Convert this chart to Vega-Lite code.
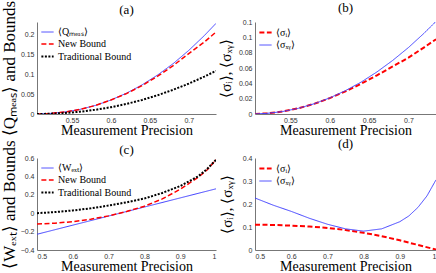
{
  "$schema": "https://vega.github.io/schema/vega-lite/v6.json",
  "background": "white",
  "padding": {"left": 0, "top": 0, "right": 2, "bottom": 0},
  "config": {
    "font": "Liberation Serif",
    "view": {"stroke": null},
    "axis": {
      "labelFont": "Liberation Sans", "labelFontSize": 7, "labelColor": "#333",
      "domainColor": "#777", "ticks": false, "grid": false,
      "titleFont": "Liberation Serif", "titleFontWeight": "normal", "titleColor": "#000"
    },
    "axisX": {"titleFontSize": 14, "titlePadding": 0, "labelPadding": 2},
    "axisY": {"titleFontSize": 17, "titlePadding": 2, "labelPadding": 3},
    "title": {"font": "Liberation Serif", "fontSize": 13, "fontWeight": "normal", "offset": 3, "color": "#000", "frame": "group"},
    "legend": {
      "orient": "top-left", "offset": 1, "title": null,
      "labelFont": "Liberation Serif", "labelFontSize": 10, "labelColor": "#000",
      "symbolType": "stroke", "symbolSize": 150, "rowPadding": 0, "padding": 2,
      "fillColor": "white", "labelOffset": 3
    }
  },
  "datasets": {
    "a": [
      {"x": 0.505, "y": 0.0, "s": "⟨Qₘₑₐₛ⟩"}, {"x": 0.52, "y": 0.001, "s": "⟨Qₘₑₐₛ⟩"}, {"x": 0.54, "y": 0.0047, "s": "⟨Qₘₑₐₛ⟩"},
      {"x": 0.56, "y": 0.0114, "s": "⟨Qₘₑₐₛ⟩"}, {"x": 0.58, "y": 0.0214, "s": "⟨Qₘₑₐₛ⟩"}, {"x": 0.6, "y": 0.035, "s": "⟨Qₘₑₐₛ⟩"},
      {"x": 0.62, "y": 0.052, "s": "⟨Qₘₑₐₛ⟩"}, {"x": 0.64, "y": 0.0728, "s": "⟨Qₘₑₐₛ⟩"}, {"x": 0.66, "y": 0.0975, "s": "⟨Qₘₑₐₛ⟩"},
      {"x": 0.68, "y": 0.126, "s": "⟨Qₘₑₐₛ⟩"}, {"x": 0.7, "y": 0.159, "s": "⟨Qₘₑₐₛ⟩"}, {"x": 0.72, "y": 0.196, "s": "⟨Qₘₑₐₛ⟩"},
      {"x": 0.735, "y": 0.2266, "s": "⟨Qₘₑₐₛ⟩"},
      {"x": 0.505, "y": 0.0, "s": "New Bound"}, {"x": 0.52, "y": 0.001, "s": "New Bound"}, {"x": 0.54, "y": 0.0047, "s": "New Bound"},
      {"x": 0.56, "y": 0.0114, "s": "New Bound"}, {"x": 0.58, "y": 0.0214, "s": "New Bound"}, {"x": 0.6, "y": 0.035, "s": "New Bound"},
      {"x": 0.62, "y": 0.051, "s": "New Bound"}, {"x": 0.64, "y": 0.071, "s": "New Bound"}, {"x": 0.66, "y": 0.0945, "s": "New Bound"},
      {"x": 0.68, "y": 0.121, "s": "New Bound"}, {"x": 0.7, "y": 0.151, "s": "New Bound"}, {"x": 0.72, "y": 0.18, "s": "New Bound"},
      {"x": 0.735, "y": 0.205, "s": "New Bound"},
      {"x": 0.505, "y": 0.0, "s": "Traditional Bound"}, {"x": 0.52, "y": 0.0005, "s": "Traditional Bound"}, {"x": 0.54, "y": 0.0023, "s": "Traditional Bound"},
      {"x": 0.56, "y": 0.0057, "s": "Traditional Bound"}, {"x": 0.58, "y": 0.0105, "s": "Traditional Bound"}, {"x": 0.6, "y": 0.017, "s": "Traditional Bound"},
      {"x": 0.62, "y": 0.0252, "s": "Traditional Bound"}, {"x": 0.64, "y": 0.0352, "s": "Traditional Bound"}, {"x": 0.66, "y": 0.047, "s": "Traditional Bound"},
      {"x": 0.68, "y": 0.0606, "s": "Traditional Bound"}, {"x": 0.7, "y": 0.076, "s": "Traditional Bound"}, {"x": 0.72, "y": 0.0935, "s": "Traditional Bound"},
      {"x": 0.735, "y": 0.1078, "s": "Traditional Bound"}
    ],
    "b": [
      {"x": 0.505, "y": 0.0, "s": "⟨σᵢ⟩"}, {"x": 0.52, "y": 0.0008, "s": "⟨σᵢ⟩"}, {"x": 0.54, "y": 0.0032, "s": "⟨σᵢ⟩"},
      {"x": 0.56, "y": 0.0074, "s": "⟨σᵢ⟩"}, {"x": 0.58, "y": 0.0132, "s": "⟨σᵢ⟩"}, {"x": 0.6, "y": 0.0207, "s": "⟨σᵢ⟩"},
      {"x": 0.62, "y": 0.0295, "s": "⟨σᵢ⟩"}, {"x": 0.64, "y": 0.0395, "s": "⟨σᵢ⟩"}, {"x": 0.66, "y": 0.0505, "s": "⟨σᵢ⟩"},
      {"x": 0.68, "y": 0.062, "s": "⟨σᵢ⟩"}, {"x": 0.7, "y": 0.0735, "s": "⟨σᵢ⟩"}, {"x": 0.72, "y": 0.087, "s": "⟨σᵢ⟩"},
      {"x": 0.735, "y": 0.0975, "s": "⟨σᵢ⟩"},
      {"x": 0.505, "y": 0.0, "s": "⟨σₓᵧ⟩"}, {"x": 0.52, "y": 0.0008, "s": "⟨σₓᵧ⟩"}, {"x": 0.54, "y": 0.0032, "s": "⟨σₓᵧ⟩"},
      {"x": 0.56, "y": 0.0074, "s": "⟨σₓᵧ⟩"}, {"x": 0.58, "y": 0.0133, "s": "⟨σₓᵧ⟩"}, {"x": 0.6, "y": 0.021, "s": "⟨σₓᵧ⟩"},
      {"x": 0.62, "y": 0.0305, "s": "⟨σₓᵧ⟩"}, {"x": 0.64, "y": 0.0417, "s": "⟨σₓᵧ⟩"}, {"x": 0.66, "y": 0.0549, "s": "⟨σₓᵧ⟩"},
      {"x": 0.68, "y": 0.0699, "s": "⟨σₓᵧ⟩"}, {"x": 0.7, "y": 0.0867, "s": "⟨σₓᵧ⟩"}, {"x": 0.72, "y": 0.1055, "s": "⟨σₓᵧ⟩"},
      {"x": 0.735, "y": 0.1208, "s": "⟨σₓᵧ⟩"}
    ],
    "c": [
      {"x": 0.5, "y": -0.229, "s": "⟨Wₑₓₜ⟩"}, {"x": 0.6, "y": -0.13, "s": "⟨Wₑₓₜ⟩"}, {"x": 0.7, "y": -0.031, "s": "⟨Wₑₓₜ⟩"},
      {"x": 0.8, "y": 0.067, "s": "⟨Wₑₓₜ⟩"}, {"x": 0.9, "y": 0.166, "s": "⟨Wₑₓₜ⟩"}, {"x": 1.0, "y": 0.265, "s": "⟨Wₑₓₜ⟩"},
      {"x": 0.5, "y": -0.118, "s": "New Bound"}, {"x": 0.55, "y": -0.108, "s": "New Bound"}, {"x": 0.6, "y": -0.092, "s": "New Bound"},
      {"x": 0.65, "y": -0.065, "s": "New Bound"}, {"x": 0.7, "y": -0.029, "s": "New Bound"}, {"x": 0.75, "y": 0.018, "s": "New Bound"},
      {"x": 0.8, "y": 0.076, "s": "New Bound"}, {"x": 0.85, "y": 0.155, "s": "New Bound"}, {"x": 0.9, "y": 0.26, "s": "New Bound"},
      {"x": 0.95, "y": 0.39, "s": "New Bound"}, {"x": 0.975, "y": 0.47, "s": "New Bound"}, {"x": 1.0, "y": 0.58, "s": "New Bound"},
      {"x": 0.5, "y": 0.0, "s": "Traditional Bound"}, {"x": 0.55, "y": 0.012, "s": "Traditional Bound"}, {"x": 0.6, "y": 0.03, "s": "Traditional Bound"},
      {"x": 0.65, "y": 0.053, "s": "Traditional Bound"}, {"x": 0.7, "y": 0.083, "s": "Traditional Bound"}, {"x": 0.75, "y": 0.118, "s": "Traditional Bound"},
      {"x": 0.8, "y": 0.16, "s": "Traditional Bound"}, {"x": 0.85, "y": 0.22, "s": "Traditional Bound"}, {"x": 0.9, "y": 0.295, "s": "Traditional Bound"},
      {"x": 0.95, "y": 0.4, "s": "Traditional Bound"}, {"x": 0.975, "y": 0.48, "s": "Traditional Bound"}, {"x": 1.0, "y": 0.58, "s": "Traditional Bound"}
    ],
    "d": [
      {"x": 0.5, "y": 0.11, "s": "⟨σᵢ⟩"}, {"x": 0.55, "y": 0.109, "s": "⟨σᵢ⟩"}, {"x": 0.6, "y": 0.106, "s": "⟨σᵢ⟩"},
      {"x": 0.65, "y": 0.102, "s": "⟨σᵢ⟩"}, {"x": 0.7, "y": 0.096, "s": "⟨σᵢ⟩"}, {"x": 0.75, "y": 0.087, "s": "⟨σᵢ⟩"},
      {"x": 0.8, "y": 0.075, "s": "⟨σᵢ⟩"}, {"x": 0.85, "y": 0.06, "s": "⟨σᵢ⟩"}, {"x": 0.9, "y": 0.042, "s": "⟨σᵢ⟩"},
      {"x": 0.95, "y": 0.022, "s": "⟨σᵢ⟩"}, {"x": 1.0, "y": 0.002, "s": "⟨σᵢ⟩"},
      {"x": 0.5, "y": 0.226, "s": "⟨σₓᵧ⟩"}, {"x": 0.55, "y": 0.195, "s": "⟨σₓᵧ⟩"}, {"x": 0.6, "y": 0.168, "s": "⟨σₓᵧ⟩"},
      {"x": 0.65, "y": 0.138, "s": "⟨σₓᵧ⟩"}, {"x": 0.7, "y": 0.112, "s": "⟨σₓᵧ⟩"}, {"x": 0.75, "y": 0.092, "s": "⟨σₓᵧ⟩"},
      {"x": 0.8, "y": 0.082, "s": "⟨σₓᵧ⟩"}, {"x": 0.85, "y": 0.092, "s": "⟨σₓᵧ⟩"}, {"x": 0.9, "y": 0.123, "s": "⟨σₓᵧ⟩"},
      {"x": 0.925, "y": 0.148, "s": "⟨σₓᵧ⟩"}, {"x": 0.95, "y": 0.185, "s": "⟨σₓᵧ⟩"}, {"x": 0.975, "y": 0.235, "s": "⟨σₓᵧ⟩"},
      {"x": 1.0, "y": 0.305, "s": "⟨σₓᵧ⟩"}
    ]
  },
  "columns": 2,
  "bounds": "flush",
  "spacing": {"row": 44, "column": 39},
  "resolve": {"scale": {"color": "independent", "strokeDash": "independent", "strokeWidth": "independent"}},
  "concat": [
    {
      "width": 179, "height": 92,
      "title": {"text": "(a)", "offset": -17},
      "data": {"name": "a"},
      "mark": {"type": "line", "clip": true},
      "encoding": {
        "x": {"field": "x", "type": "quantitative", "scale": {"domain": [0.505, 0.735], "nice": false, "zero": false}, "axis": {"title": "Measurement Precision", "values": [0.55, 0.6, 0.65, 0.7], "format": "~g"}},
        "y": {"field": "y", "type": "quantitative", "scale": {"domain": [0, 0.23], "nice": false}, "axis": {"title": "⟨Qₘₑₐₛ⟩ and Bounds", "values": [0, 0.05, 0.1, 0.15, 0.2], "format": "~g"}},
        "color": {"field": "s", "type": "nominal", "scale": {"domain": ["⟨Qₘₑₐₛ⟩", "New Bound", "Traditional Bound"], "range": ["#4040ff", "#ff0000", "#000000"]}},
        "strokeDash": {"field": "s", "type": "nominal", "scale": {"domain": ["⟨Qₘₑₐₛ⟩", "New Bound", "Traditional Bound"], "range": [[1, 0], [5, 2.5], [2, 1.5]]}},
        "strokeWidth": {"field": "s", "type": "nominal", "scale": {"domain": ["⟨Qₘₑₐₛ⟩", "New Bound", "Traditional Bound"], "range": [1, 2, 2]}}
      }
    },
    {
      "width": 181, "height": 92,
      "title": {"text": "(b)", "offset": 3},
      "data": {"name": "b"},
      "mark": {"type": "line", "clip": true},
      "encoding": {
        "x": {"field": "x", "type": "quantitative", "scale": {"domain": [0.505, 0.735], "nice": false, "zero": false}, "axis": {"title": "Measurement Precision", "values": [0.55, 0.6, 0.65, 0.7], "format": "~g"}},
        "y": {"field": "y", "type": "quantitative", "scale": {"domain": [0, 0.12], "nice": false}, "axis": {"title": "⟨σᵢ⟩, ⟨σₓᵧ⟩", "titleFontSize": 15, "titlePadding": 5, "values": [0, 0.02, 0.04, 0.06, 0.08, 0.1, 0.12], "format": "~g"}},
        "color": {"field": "s", "type": "nominal", "scale": {"domain": ["⟨σᵢ⟩", "⟨σₓᵧ⟩"], "range": ["#ff0000", "#4040ff"]}},
        "strokeDash": {"field": "s", "type": "nominal", "scale": {"domain": ["⟨σᵢ⟩", "⟨σₓᵧ⟩"], "range": [[5, 2.5], [1, 0]]}},
        "strokeWidth": {"field": "s", "type": "nominal", "scale": {"domain": ["⟨σᵢ⟩", "⟨σₓᵧ⟩"], "range": [2, 1]}}
      }
    },
    {
      "width": 179, "height": 92,
      "title": {"text": "(c)", "offset": -17},
      "data": {"name": "c"},
      "mark": {"type": "line", "clip": true},
      "encoding": {
        "x": {"field": "x", "type": "quantitative", "scale": {"domain": [0.5, 1], "nice": false, "zero": false}, "axis": {"title": "Measurement Precision", "values": [0.5, 0.6, 0.7, 0.8, 0.9, 1], "format": "~g"}},
        "y": {"field": "y", "type": "quantitative", "scale": {"domain": [-0.4, 0.6], "nice": false}, "axis": {"title": "⟨Wₑₓₜ⟩ and Bounds", "values": [-0.4, -0.2, 0, 0.2, 0.4, 0.6], "format": "~g"}},
        "color": {"field": "s", "type": "nominal", "scale": {"domain": ["⟨Wₑₓₜ⟩", "New Bound", "Traditional Bound"], "range": ["#4040ff", "#ff0000", "#000000"]}},
        "strokeDash": {"field": "s", "type": "nominal", "scale": {"domain": ["⟨Wₑₓₜ⟩", "New Bound", "Traditional Bound"], "range": [[1, 0], [5, 2.5], [2, 1.5]]}},
        "strokeWidth": {"field": "s", "type": "nominal", "scale": {"domain": ["⟨Wₑₓₜ⟩", "New Bound", "Traditional Bound"], "range": [1, 2, 2]}}
      }
    },
    {
      "width": 181, "height": 92,
      "title": {"text": "(d)", "offset": 3},
      "data": {"name": "d"},
      "mark": {"type": "line", "clip": true},
      "encoding": {
        "x": {"field": "x", "type": "quantitative", "scale": {"domain": [0.5, 1], "nice": false, "zero": false}, "axis": {"title": "Measurement Precision", "values": [0.5, 0.6, 0.7, 0.8, 0.9, 1], "format": "~g"}},
        "y": {"field": "y", "type": "quantitative", "scale": {"domain": [0, 0.4], "nice": false}, "axis": {"title": "⟨σᵢ⟩, ⟨σₓᵧ⟩", "titleFontSize": 15, "titlePadding": 8, "values": [0, 0.1, 0.2, 0.3, 0.4], "format": "~g"}},
        "color": {"field": "s", "type": "nominal", "scale": {"domain": ["⟨σᵢ⟩", "⟨σₓᵧ⟩"], "range": ["#ff0000", "#4040ff"]}},
        "strokeDash": {"field": "s", "type": "nominal", "scale": {"domain": ["⟨σᵢ⟩", "⟨σₓᵧ⟩"], "range": [[5, 2.5], [1, 0]]}},
        "strokeWidth": {"field": "s", "type": "nominal", "scale": {"domain": ["⟨σᵢ⟩", "⟨σₓᵧ⟩"], "range": [2, 1]}}
      }
    }
  ]
}
